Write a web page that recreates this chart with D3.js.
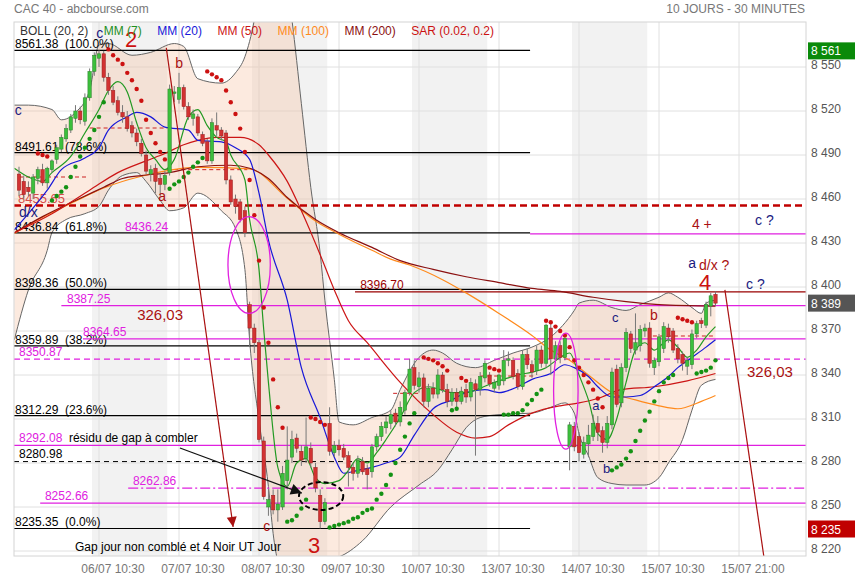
<!DOCTYPE html>
<html><head><meta charset="utf-8">
<script src="https://cdn.jsdelivr.net/npm/d3@7"></script>
<style>
body{margin:0;background:#fff;}
svg{font-family:"Liberation Sans",Arial,sans-serif;}
</style></head><body>
<svg id="chart" width="855" height="580"></svg>
<script>
// --- time axis: 17 half-hour bars per day, slot index g = day*17 + slot
const dayNames = ["03/07","06/07","07/07","08/07","09/07","10/07","13/07","14/07","15/07"];
const dayFirstSlot = [2,0,0,0,0,0,0,0,0];
const shadedDays = [1,3,5,7];
const xTickLabels = ["06/07 10:30","07/07 10:30","08/07 10:30","09/07 10:30","10/07 10:30","13/07 10:30","14/07 10:30","15/07 10:30","15/07 21:00"];
const xTickSlots = [19,36,53,70,87,104,121,138,155];
const yTickValues = [8220,8250,8280,8310,8340,8370,8400,8430,8460,8490,8520,8550];

// --- candles [open, high, low, close]
const ohlc0307 = [[8477,8482,8462,8466],[8472,8476,8460,8463],[8468,8472,8462,8465],[8464,8477,8460,8475],[8474,8482,8470,8480],[8480,8484,8469,8471],[8471,8482,8467,8481],[8480,8487,8478,8486],[8487,8497,8484,8495],[8494,8504,8492,8502],[8501,8511,8499,8508],[8507,8518,8505,8516],[8515,8524,8512,8520],[8520,8523,8511,8514],[8513,8532,8510,8529]];
const ohlc0607 = [[8529,8549,8527,8547],[8547,8560,8544,8558],[8556,8561.38,8550,8559],[8559,8561,8540,8543],[8543,8546,8531,8534],[8534,8537,8524,8526],[8527,8530,8517,8519],[8519,8524,8512,8516],[8516,8520,8506,8508],[8510,8513,8502,8505],[8505,8508,8496,8499],[8498,8501,8489,8491],[8490,8493,8477,8479],[8477,8483,8472,8480],[8481,8484,8464,8472],[8474,8478,8462,8470],[8470,8479,8466,8476]];
const ohlc0707 = [[8478,8538,8476,8535],[8532,8537,8526,8533],[8528,8546,8525,8536],[8536,8538,8521,8523],[8523,8526,8514,8516],[8515,8521,8510,8518],[8516,8518,8503,8505],[8504,8506,8496,8498],[8499,8501,8484,8486],[8486,8515,8484,8512],[8510,8519,8503,8507],[8507,8509,8500,8503],[8505,8507,8470,8473],[8473,8476,8456,8458],[8460,8463,8450,8455],[8458,8460,8444,8446],[8452,8455,8434,8437]];
const ohlc0807 = [[8388,8390,8359,8372],[8372,8375,8355,8362],[8362,8364,8294,8296],[8295,8298,8255,8257],[8250,8262,8244,8255],[8258,8262,8245,8248],[8248,8262,8240,8252],[8250,8278,8248,8273],[8268,8305,8262,8282],[8284,8302,8280,8296],[8297,8300,8287,8290],[8288,8292,8278,8282],[8283,8311,8280,8291],[8290,8294,8277,8280],[8277,8280,8260,8263],[8258,8262,8235.35,8240],[8240,8256,8238,8253]];
const ohlc0907 = [[8307,8318,8285,8288],[8287,8295,8284,8292],[8292,8296,8285,8289],[8290,8293,8282,8284],[8285,8288,8264,8277],[8277,8280,8268,8273],[8273,8285,8270,8282],[8281,8284,8272,8274],[8276,8279,8262,8272],[8274,8293,8270,8291],[8291,8300,8288,8298],[8298,8308,8295,8305],[8304,8312,8300,8308],[8307,8316,8303,8313],[8314,8317,8305,8308],[8308,8322,8305,8318],[8316,8330,8313,8328]];
const ohlc1007 = [[8328,8351,8326,8344],[8345,8350,8330,8333],[8332,8342,8328,8338],[8338,8341,8318,8322],[8322,8334,8318,8331],[8331,8335,8324,8327],[8327,8344,8324,8340],[8340,8342,8328,8330],[8330,8334,8318,8322],[8322,8331,8319,8328],[8328,8331,8318,8322],[8322,8332,8320,8329],[8330,8334,8321,8325],[8325,8338,8322,8335],[8334,8337,8285,8330],[8330,8342,8326,8339],[8338,8350,8335,8348]];
const ohlc1307 = [[8340,8342,8332,8334],[8331,8337,8328,8335],[8333,8341,8330,8340],[8336,8357,8333,8350],[8350,8356,8346,8351],[8350,8352,8337,8339],[8341,8344,8330,8332],[8332,8357,8330,8354],[8354,8358,8344,8347],[8347,8350,8338,8342],[8343,8360,8340,8357],[8357,8360,8345,8348],[8348,8375,8345,8374],[8372,8375,8340,8351],[8351,8363,8348,8360],[8360,8363,8348,8352],[8352,8366,8350,8365]];
const ohlc1407 = [[8291,8308,8275,8306],[8305,8308,8288,8291],[8298,8301,8281,8287],[8286,8298,8283,8294],[8293,8306,8284,8299],[8298,8313,8295,8307],[8307,8312,8295,8301],[8302,8305,8287,8294],[8294,8312,8290,8307],[8306,8345,8303,8342],[8344,8347,8318,8320],[8321,8348,8318,8345],[8345,8372,8342,8369],[8368,8370,8355,8358],[8357,8382,8354,8362],[8360,8374,8356,8371],[8370,8375,8366,8372]];
const ohlc1507 = [[8372,8376,8345,8348],[8345,8352,8340,8350],[8349,8368,8346,8366],[8358,8376,8355,8373],[8372,8375,8362,8366],[8370,8372,8355,8357],[8358,8361,8348,8351],[8354,8356,8343,8348],[8346,8352,8340,8350],[8347,8371,8344,8368],[8368,8377,8365,8375],[8377,8379,8372,8375],[8374,8390,8372,8388],[8387,8396,8380,8394],[8395,8397,8387,8389]];
const dayBars = [ohlc0307,ohlc0607,ohlc0707,ohlc0807,ohlc0907,ohlc1007,ohlc1307,ohlc1407,ohlc1507];

// --- indicators: [slot, value]
const mm7 = [[1,8481],[4,8475],[7,8472],[9,8478],[13,8489],[16,8505],[19,8521],[21,8534],[23,8540],[25,8533],[27,8512],[29,8495],[31,8487],[33,8480],[35,8487],[38,8516],[40,8521],[42,8510],[44,8502],[46,8499],[47,8490],[50,8473],[51,8446],[53,8412],[54,8371],[55,8335],[57,8277],[59,8264],[61,8280],[63,8283],[65,8270],[67,8266],[70,8268],[72,8275],[74,8283],[76,8280],[78,8287],[80,8296],[83,8311],[86,8328],[89,8332],[94,8328],[97,8328],[100,8331],[103,8335],[106,8338],[108,8340],[111,8342],[114,8345],[117,8352],[119,8355],[121,8340],[123,8323],[125,8300],[127,8296],[129,8310],[131,8335],[133,8357],[135,8362],[137,8357],[140,8364],[142,8359],[144,8352],[146,8357],[148,8366],[150,8373]];
const mm20 = [[1,8439],[4,8450],[8,8466],[11,8480],[16,8488],[19,8495],[21,8507],[25,8516],[27,8519],[30,8516],[33,8509],[38,8507],[40,8500],[45,8499],[48,8495],[51,8487],[53,8464],[55,8432],[59,8391],[62,8345],[66,8311],[69,8284],[71,8273],[74,8275],[77,8277],[80,8280],[83,8284],[86,8299],[90,8317],[94,8323],[97,8328],[101,8330],[104,8328],[108,8332],[111,8337],[115,8341],[118,8347],[120,8345],[123,8339],[125,8332],[128,8325],[131,8325],[134,8326],[137,8332],[140,8339],[142,8345],[145,8352],[148,8359],[150,8364]];
const mm50 = [[1,8437],[9,8450],[17,8466],[23,8478],[29,8486],[33,8491],[37,8497],[40,8500],[44,8502],[49,8502],[53,8497],[55,8490],[59,8472],[62,8452],[66,8422],[69,8398],[72,8377],[76,8362],[83,8335],[90,8313],[95,8301],[99,8297],[102,8298],[106,8306],[111,8314],[117,8319],[121,8321],[125,8324],[130,8330],[137,8332],[144,8336],[150,8341]];
const mm100 = [[1,8436.5],[7,8447.5],[14,8458.5],[20,8467.5],[28,8475.5],[40,8481.5],[51,8480.5],[59,8460.5],[65,8445],[70,8436],[77,8425],[81,8419],[85,8415],[92,8405],[97,8396],[104,8382],[111,8367],[115,8357],[119,8350],[123,8340],[128,8328],[133,8323],[138,8319],[142,8317],[147,8322],[150,8326]];
const mm200 = [[1,8437],[7,8448],[14,8459],[20,8468],[24,8474],[28,8476],[34,8478],[40,8482],[47,8483],[51,8481],[55,8474],[59,8461],[65,8446],[70,8437],[77,8427],[83,8418],[90,8412],[97,8407],[104,8403],[111,8399],[117,8397],[124,8393],[131,8390],[138,8388],[150,8387]];
const bollUp = [[1,8524],[4,8524],[9,8521],[11,8514],[14,8519],[17,8534],[19,8565],[21,8566],[26,8558],[30,8560],[35,8566],[37,8564],[40,8542],[45,8539],[48,8546],[50,8557],[52,8582],[54,8625],[58,8625],[60,8582],[62,8525],[64,8468],[66,8423],[67,8391],[69,8337],[70,8308],[73,8306],[77,8311],[81,8316],[83,8330],[87,8352],[90,8357],[92,8355],[95,8348],[99,8345],[103,8350],[107,8355],[111,8359],[115,8366],[120,8384],[121,8389],[124,8391],[128,8386],[131,8384],[134,8388],[138,8393],[140,8396],[142,8393],[145,8386],[147,8382],[148,8389],[150,8391]];
const bollLow = [[1,8364],[4,8398],[8,8425],[9,8437],[12,8446],[16,8450],[19,8455],[21,8466],[24,8476],[27,8478],[29,8472],[32,8459],[34,8452],[37,8454],[40,8464],[45,8452],[48,8440],[50,8412],[51,8364],[53,8309],[55,8264],[56,8232],[58,8200],[62,8170],[65,8190],[67,8214],[70,8216],[75,8227],[81,8250],[87,8265],[91,8275],[94,8289],[97,8304],[100,8311],[104,8313],[111,8314],[115,8318],[118,8321],[120,8314],[121,8300],[123,8285],[125,8270],[128,8266],[131,8265],[135,8265],[138,8270],[140,8280],[143,8296],[145,8316],[147,8333],[150,8337]];
// SAR runs: [first slot, values]
const sarRed = [[6,[8491,8490,8489]],[21,[8562,8558,8555,8552,8546,8541,8535,8527,8514,8505,8498,8492,8487]],[42,[8547,8545,8543,8541,8534,8526,8518,8508,8492,8473,8449,8418,8386,8362,8337,8318,8304]],[64,[8311,8310,8308,8306]],[88,[8352,8351,8350,8348,8346,8343]],[96,[8338,8336]],[102,[8345,8344,8343]],[114,[8377,8376,8373,8370,8367,8359,8350,8345,8340,8335,8330,8324,8318]],[142,[8379,8378,8377,8376]]];
const sarGreen = [[9,[8459,8462,8465,8468,8475,8482,8489,8495,8501,8507,8516,8526]],[34,[8467,8470,8472,8475,8478,8482,8485,8488]],[59,[8240,8241,8244,8249,8255]],[68,[8236,8237,8238,8239,8240,8242,8243,8246,8248,8249,8255,8259,8265,8272,8280,8289,8298,8307,8314]],[94,[8316,8317]],[105,[8313,8313,8314,8314,8316,8320,8323,8327,8330]],[128,[8275,8277,8279,8283,8288,8295,8302,8309,8315,8322,8329,8335,8338,8340]],[146,[8341,8342,8343,8345,8350]]];
// short red dashed gap markers [from slot, to slot, value]
const gapMarks = [[2,16.5,8475],[17,33.5,8508.4],[33.5,50.5,8480],[81.5,87.2,8327.5],[100,111.7,8339.3],[136.7,149.5,8366.6]];

// --- levels
const fibLevels = [8561.38,8491.61,8436.84,8398.36,8359.89,8312.29,8235.35];
const fibPct = ["100.0%","78.6%","61.8%","50.0%","38.2%","23.6%","0.0%"];
const fibEndSlot = 110.6;
const pinkLevels = [8436.24,8387.25,8364.65,8350.87,8292.08,8262.86,8252.66];
const pinkStart = [110.6,11,15.6,null,null,25.2,6.5];
const pinkDash = [null,null,null,"6,4",null,"10,3,2,3",null];
const pinkLabelSlot = [24.5,12.2,15.6,2,2,26.2,7.5];

// --- scales
const L = 14, R = 806, T = 22, B = 556;
const x = d3.scaleLinear().domain([0, 170]).range([9.6, 809.6]);
const y = d3.scaleLinear().domain([8220, 8550]).range([551, 67]);
const fmt = v => d3.format(",")(v).replace(",", " ");

const svg = d3.select("#chart");
svg.append("defs").append("clipPath").attr("id","plot")
  .append("rect").attr("x",L).attr("y",T).attr("width",R-L).attr("height",B-T);

// titles
svg.append("text").attr("x",14).attr("y",13).attr("font-size",12).attr("fill","#777").text("CAC 40 - abcbourse.com");
svg.append("text").attr("x",805).attr("y",13).attr("font-size",12).attr("fill","#777").attr("text-anchor","end").text("10 JOURS - 30 MINUTES");

const g = svg.append("g").attr("clip-path","url(#plot)");

// shaded days
g.selectAll(".band").data(shadedDays).enter().append("rect")
  .attr("x", d => x(d*17+0.5)).attr("width", d => x(d*17+16.5) - x(d*17+0.5))
  .attr("y", T).attr("height", B-T).attr("fill", "#f2f2f2");

// grid
g.selectAll(".hg").data(yTickValues).enter().append("line")
  .attr("x1",L).attr("x2",R).attr("y1",d=>y(d)).attr("y2",d=>y(d))
  .attr("stroke","#e0e0e0");
g.selectAll(".vg").data(xTickSlots).enter().append("line")
  .attr("x1",d=>x(d)).attr("x2",d=>x(d)).attr("y1",T).attr("y2",B)
  .attr("stroke","#e0e0e0");

// bollinger
const line = d3.line().x(d=>x(d[0])).y(d=>y(d[1])).curve(d3.curveMonotoneX);
const upPath = line(bollUp);
const lowPath = line(bollLow.slice().reverse());
g.append("path").attr("d", upPath + "L" + lowPath.slice(1) + "Z")
  .attr("fill","#f4b894").attr("fill-opacity",0.3);
[bollUp, bollLow].forEach(s => g.append("path").attr("d", line(s))
  .attr("fill","none").attr("stroke","#666").attr("stroke-width",1));

// fib levels
fibLevels.forEach((v,i) => {
  g.append("line").attr("x1",L).attr("x2",x(fibEndSlot)).attr("y1",y(v)).attr("y2",y(v))
    .attr("stroke","#000").attr("stroke-width",1.2);
  g.append("text").attr("x",L+1).attr("y",y(v)-2).attr("font-size",12).attr("fill","#000")
    .style("white-space","pre").text(v.toFixed(2) + "  (" + fibPct[i] + ")");
});
// pink levels
pinkLevels.forEach((v,i) => {
  g.append("line").attr("x1", pinkStart[i]==null ? L : x(pinkStart[i])).attr("x2",R)
    .attr("y1",y(v)).attr("y2",y(v)).attr("stroke","#e020e0").attr("stroke-width",1.2)
    .attr("stroke-dasharray", pinkDash[i]);
  g.append("text").attr("x",x(pinkLabelSlot[i])).attr("y",y(v)-3).attr("font-size",12)
    .attr("fill","#e020e0").text(v.toFixed(2));
});
// black dashed 8280.98
g.append("line").attr("x1",L).attr("x2",R).attr("y1",y(8280.98)).attr("y2",y(8280.98))
  .attr("stroke","#000").attr("stroke-dasharray","5,4");
g.append("text").attr("x",x(2)).attr("y",y(8280.98)-4).attr("font-size",12).text("8280.98");
// dark red 8455.65 heavy dashed
g.append("line").attr("x1",L).attr("x2",R).attr("y1",y(8455.65)).attr("y2",y(8455.65))
  .attr("stroke","#c00000").attr("stroke-width",2.5).attr("stroke-dasharray","7,4");
g.append("text").attr("x",x(1.8)).attr("y",y(8455.65)-2).attr("font-size",13)
  .attr("fill","#cc2222").attr("fill-opacity",0.8).text("8455.65");
// dark red 8396.70
g.append("line").attr("x1",x(73.4)).attr("x2",R).attr("y1",y(8396.70)).attr("y2",y(8396.70))
  .attr("stroke","#990000").attr("stroke-width",1.2);
g.append("text").attr("x",x(74.5)).attr("y",y(8396.70)-3).attr("font-size",12)
  .attr("fill","#990000").text("8396.70");
// red gap markers
g.selectAll(".gm").data(gapMarks).enter().append("line")
  .attr("x1",d=>x(d[0])).attr("x2",d=>x(d[1])).attr("y1",d=>y(d[2])).attr("y2",d=>y(d[2]))
  .attr("stroke","#cc2222").attr("stroke-dasharray","4,3");

// moving averages (MM100 under MM200)
[[mm100,"#ff8a1c"],[mm200,"#8b1010"],[mm50,"#cc1515"],[mm20,"#1818d8"],[mm7,"#229922"]].forEach(([s,c]) =>
  g.append("path").attr("d", line(s)).attr("fill","none").attr("stroke",c).attr("stroke-width",1.2));

// candles
const candles = dayBars.flatMap((bars,d) => bars.map((b,i) => ({g: d*17 + dayFirstSlot[d] + i, o:b[0], h:b[1], l:b[2], c:b[3]})));
const cg = g.append("g");
candles.forEach(k => {
  const up = k.c >= k.o;
  const edge = up ? "#2a7f2a" : "#9a1a1a";
  cg.append("line").attr("x1",x(k.g)).attr("x2",x(k.g)).attr("y1",y(k.h)).attr("y2",y(k.l))
    .attr("stroke", "#777").attr("stroke-width",1);
  const top = y(Math.max(k.o,k.c)), bot = y(Math.min(k.o,k.c));
  cg.append("rect").attr("x",x(k.g)-1.7).attr("width",3.4)
    .attr("y",top).attr("height",Math.max(1,bot-top))
    .attr("fill", up ? "#3cbf3c" : "#d23232").attr("stroke",edge).attr("stroke-width",0.5);
});

// SAR dots
const sarPts = (runs, col) => runs.flatMap(([s,vals]) => vals.map((v,i)=>({g:s+i, v, col})));
g.selectAll(".sar").data(sarPts(sarRed,"#cc1111").concat(sarPts(sarGreen,"#149214"))).enter()
  .append("circle").attr("cx",d=>x(d.g)).attr("cy",d=>y(d.v)).attr("r",2.2).attr("fill",d=>d.col);

// ellipses
const ellipses = [
  {g:50.9, v:8415, dg:4.5, dv:33, col:"#e020e0", dash:null},
  {g:118.2, v:8329, dg:2.6, dv:39.5, col:"#e020e0", dash:null},
  {g:66.2, v:8257.5, dg:4.7, dv:9.5, col:"#000", dash:"5,3"}
];
ellipses.forEach(e => g.append("ellipse").attr("cx",x(e.g)).attr("cy",y(e.v))
  .attr("rx",x(e.g+e.dg)-x(e.g)).attr("ry",y(e.v-e.dv)-y(e.v))
  .attr("fill","none").attr("stroke",e.col).attr("stroke-width",e.dash?2:1.3).attr("stroke-dasharray",e.dash));

// arrows / projection lines [slot, value]
function arrow(p0, p1, col, width, head) {
  const x0=x(p0[0]), y0=y(p0[1]), x1=x(p1[0]), y1=y(p1[1]);
  const a = Math.atan2(y1-y0, x1-x0);
  g.append("line").attr("x1",x0).attr("y1",y0).attr("x2",x1).attr("y2",y1)
    .attr("stroke",col).attr("stroke-width",width);
  if (head) {
    const bx = x1 - head*Math.cos(a), by = y1 - head*Math.sin(a);
    const w = head*0.5;
    g.append("polygon").attr("points", [[x1,y1],[bx + w*Math.sin(a), by - w*Math.cos(a)],[bx - w*Math.sin(a), by + w*Math.cos(a)]].join(" "))
      .attr("fill",col);
  }
}
arrow([33.3,8563],[47.5,8236.4],"#aa1111",1.2,10);
arrow([36.2,8290.2],[62.1,8259.5],"#111",1.2,11);
arrow([152,8398],[160.7,8207],"#aa1111",1.2,0);

// annotations [slot, value, text, colour, size]
const notes = [
  [24.5,8563.6,"2","#cc1111",22],[18.4,8570,"c","#1a1a80",14],[1.1,8517,"c","#1a1a80",14],
  [2,8447.7,"d/x","#1a1a80",14],[35.2,8549,"b","#aa1111",14],[31.6,8458.6,"a","#aa1111",14],
  [53.9,8233.6,"c","#aa1111",14],[63.4,8218.6,"3","#cc1111",22],[27.1,8377.5,"326,03","#aa1111",15],
  [123.8,8316,"a","#1a1a80",13],[126.1,8273,"b","#1a1a80",13],[128,8376,"c","#1a1a80",13],
  [136.1,8377.5,"b","#aa1111",14],[144.2,8413,"a","#1a1a80",14],[146.5,8411.5,"d/x ?","#aa1111",14],
  [146.5,8398,"4","#cc1111",22],[145,8439.5,"4 +","#aa1111",14],[158.4,8442,"c ?","#1a1a80",14],
  [156.5,8398.6,"c ?","#1a1a80",14],[156.7,8338.6,"326,03","#aa1111",15],
  [12.6,8294.3,"résidu de gap à combler","#000",12],[13.9,8220,"Gap jour non comblé et 4 Noir UT Jour","#000",12]
];
notes.forEach(n => g.append("text").attr("x",x(n[0])).attr("y",y(n[1])).attr("fill",n[3])
  .attr("font-size",n[4]).text(n[2]));

// legend
const legendText = ["BOLL (20, 2)","MM (7)","MM (20)","MM (50)","MM (100)","MM (200)","SAR (0.02, 0.2)"];
const legendCol = ["#333","#1f8f1f","#1818d8","#cc1515","#ff8a1c","#8b1010","#cc1111"];
let lx = 20;
legendText.forEach((t,i) => {
  const el = svg.append("text").attr("x",lx).attr("y",35).attr("font-size",12).attr("fill",legendCol[i]).text(t);
  lx += el.node().getComputedTextLength() + 15.5;
});

// frame
svg.append("rect").attr("x",L).attr("y",T).attr("width",R-L).attr("height",B-T)
  .attr("fill","none").attr("stroke","#d4d4d4");

// axes labels
svg.selectAll(".yl").data(yTickValues).enter().append("text")
  .attr("x",811).attr("y",d=>y(d)+2).attr("font-size",12).attr("fill","#555").text(fmt);
svg.selectAll(".xl").data(xTickSlots).enter().append("text")
  .attr("x",d=>x(d)+14).attr("y",573).attr("font-size",12).attr("fill","#777")
  .attr("text-anchor","middle").text((d,i)=>xTickLabels[i]);

// price badges
const badges = [[8561,"#0a8a0a"],[8389,"#555"],[8235,"#c00000"]];
badges.forEach(([v,c]) => {
  svg.append("rect").attr("x",808).attr("y",y(v)-8.5).attr("width",47).attr("height",17).attr("fill",c);
  svg.append("text").attr("x",811).attr("y",y(v)+4.5).attr("font-size",12).attr("fill","#fff").text(fmt(v));
});
</script></body></html>
